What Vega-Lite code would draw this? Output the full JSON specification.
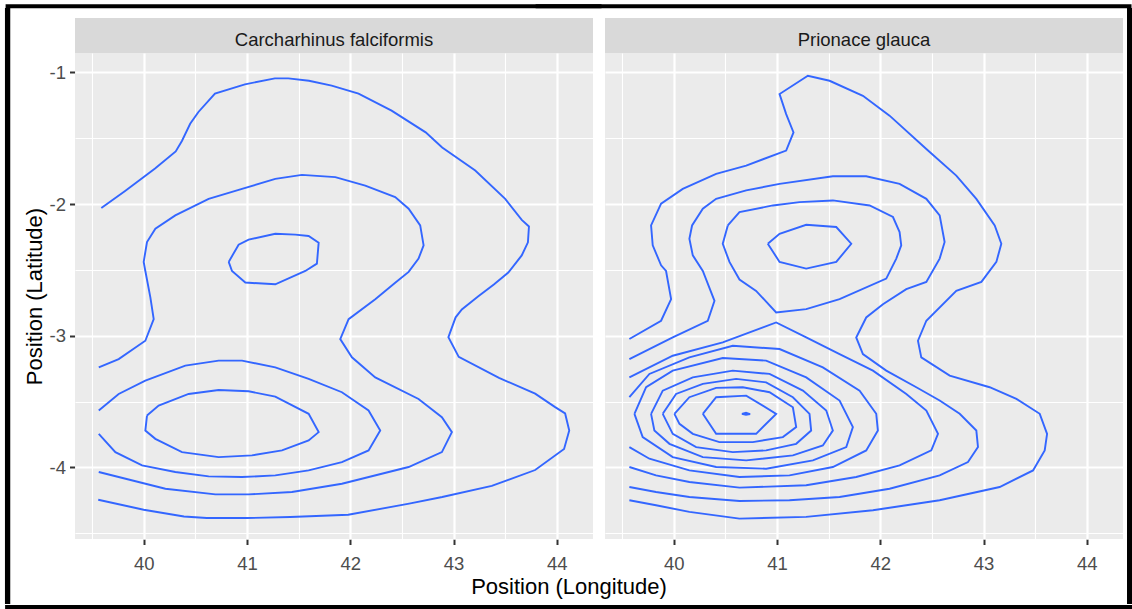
{
"$schema": "https://vega.github.io/schema/vega-lite/v6.json",
"background": "white",
"padding": {"left": 4, "top": 3, "right": 1, "bottom": 0},
"data": {"values": [
{"s":"Carcharhinus falciformis","c":"1","x":39.59,"y":-2.03},{"s":"Carcharhinus falciformis","c":"1","x":39.82,"y":-1.90},{"s":"Carcharhinus falciformis","c":"1","x":40.11,"y":-1.73},{"s":"Carcharhinus falciformis","c":"1","x":40.31,"y":-1.60},{"s":"Carcharhinus falciformis","c":"1","x":40.37,"y":-1.52},{"s":"Carcharhinus falciformis","c":"1","x":40.45,"y":-1.39},{"s":"Carcharhinus falciformis","c":"1","x":40.53,"y":-1.30},{"s":"Carcharhinus falciformis","c":"1","x":40.69,"y":-1.16},{"s":"Carcharhinus falciformis","c":"1","x":40.98,"y":-1.09},{"s":"Carcharhinus falciformis","c":"1","x":41.27,"y":-1.045},{"s":"Carcharhinus falciformis","c":"1","x":41.40,"y":-1.045},{"s":"Carcharhinus falciformis","c":"1","x":41.60,"y":-1.063},{"s":"Carcharhinus falciformis","c":"1","x":41.82,"y":-1.10},{"s":"Carcharhinus falciformis","c":"1","x":42.08,"y":-1.16},{"s":"Carcharhinus falciformis","c":"1","x":42.40,"y":-1.29},{"s":"Carcharhinus falciformis","c":"1","x":42.73,"y":-1.455},{"s":"Carcharhinus falciformis","c":"1","x":42.89,"y":-1.57},{"s":"Carcharhinus falciformis","c":"1","x":43.21,"y":-1.745},{"s":"Carcharhinus falciformis","c":"1","x":43.50,"y":-1.96},{"s":"Carcharhinus falciformis","c":"1","x":43.66,"y":-2.12},{"s":"Carcharhinus falciformis","c":"1","x":43.73,"y":-2.17},{"s":"Carcharhinus falciformis","c":"1","x":43.72,"y":-2.29},{"s":"Carcharhinus falciformis","c":"1","x":43.66,"y":-2.39},{"s":"Carcharhinus falciformis","c":"1","x":43.53,"y":-2.52},{"s":"Carcharhinus falciformis","c":"1","x":43.39,"y":-2.61},{"s":"Carcharhinus falciformis","c":"1","x":43.24,"y":-2.70},{"s":"Carcharhinus falciformis","c":"1","x":43.08,"y":-2.80},{"s":"Carcharhinus falciformis","c":"1","x":43.02,"y":-2.86},{"s":"Carcharhinus falciformis","c":"1","x":42.95,"y":-3.01},{"s":"Carcharhinus falciformis","c":"1","x":43.05,"y":-3.16},{"s":"Carcharhinus falciformis","c":"1","x":43.44,"y":-3.32},{"s":"Carcharhinus falciformis","c":"1","x":43.79,"y":-3.44},{"s":"Carcharhinus falciformis","c":"1","x":43.98,"y":-3.54},{"s":"Carcharhinus falciformis","c":"1","x":44.08,"y":-3.59},{"s":"Carcharhinus falciformis","c":"1","x":44.12,"y":-3.72},{"s":"Carcharhinus falciformis","c":"1","x":44.07,"y":-3.86},{"s":"Carcharhinus falciformis","c":"1","x":43.79,"y":-4.02},{"s":"Carcharhinus falciformis","c":"1","x":43.37,"y":-4.14},{"s":"Carcharhinus falciformis","c":"1","x":42.89,"y":-4.225},{"s":"Carcharhinus falciformis","c":"1","x":42.57,"y":-4.275},{"s":"Carcharhinus falciformis","c":"1","x":41.98,"y":-4.36},{"s":"Carcharhinus falciformis","c":"1","x":41.42,"y":-4.377},{"s":"Carcharhinus falciformis","c":"1","x":41.0,"y":-4.385},{"s":"Carcharhinus falciformis","c":"1","x":40.61,"y":-4.385},{"s":"Carcharhinus falciformis","c":"1","x":40.39,"y":-4.373},{"s":"Carcharhinus falciformis","c":"1","x":40.0,"y":-4.322},{"s":"Carcharhinus falciformis","c":"1","x":39.56,"y":-4.246},
{"s":"Carcharhinus falciformis","c":"2","x":39.565,"y":-3.24},{"s":"Carcharhinus falciformis","c":"2","x":39.758,"y":-3.177},{"s":"Carcharhinus falciformis","c":"2","x":40.016,"y":-3.038},{"s":"Carcharhinus falciformis","c":"2","x":40.097,"y":-2.874},{"s":"Carcharhinus falciformis","c":"2","x":40.065,"y":-2.71},{"s":"Carcharhinus falciformis","c":"2","x":40.016,"y":-2.508},{"s":"Carcharhinus falciformis","c":"2","x":40.0,"y":-2.439},{"s":"Carcharhinus falciformis","c":"2","x":40.032,"y":-2.288},{"s":"Carcharhinus falciformis","c":"2","x":40.113,"y":-2.187},{"s":"Carcharhinus falciformis","c":"2","x":40.306,"y":-2.086},{"s":"Carcharhinus falciformis","c":"2","x":40.629,"y":-1.96},{"s":"Carcharhinus falciformis","c":"2","x":40.952,"y":-1.884},{"s":"Carcharhinus falciformis","c":"2","x":41.274,"y":-1.808},{"s":"Carcharhinus falciformis","c":"2","x":41.532,"y":-1.778},{"s":"Carcharhinus falciformis","c":"2","x":41.855,"y":-1.795},{"s":"Carcharhinus falciformis","c":"2","x":42.145,"y":-1.859},{"s":"Carcharhinus falciformis","c":"2","x":42.435,"y":-1.947},{"s":"Carcharhinus falciformis","c":"2","x":42.565,"y":-2.035},{"s":"Carcharhinus falciformis","c":"2","x":42.677,"y":-2.162},{"s":"Carcharhinus falciformis","c":"2","x":42.71,"y":-2.313},{"s":"Carcharhinus falciformis","c":"2","x":42.661,"y":-2.414},{"s":"Carcharhinus falciformis","c":"2","x":42.565,"y":-2.515},{"s":"Carcharhinus falciformis","c":"2","x":42.435,"y":-2.598},{"s":"Carcharhinus falciformis","c":"2","x":42.242,"y":-2.722},{"s":"Carcharhinus falciformis","c":"2","x":41.984,"y":-2.874},{"s":"Carcharhinus falciformis","c":"2","x":41.903,"y":-3.025},{"s":"Carcharhinus falciformis","c":"2","x":42.016,"y":-3.164},{"s":"Carcharhinus falciformis","c":"2","x":42.242,"y":-3.316},{"s":"Carcharhinus falciformis","c":"2","x":42.661,"y":-3.48},{"s":"Carcharhinus falciformis","c":"2","x":42.887,"y":-3.619},{"s":"Carcharhinus falciformis","c":"2","x":42.984,"y":-3.732},{"s":"Carcharhinus falciformis","c":"2","x":42.887,"y":-3.884},{"s":"Carcharhinus falciformis","c":"2","x":42.565,"y":-3.997},{"s":"Carcharhinus falciformis","c":"2","x":41.919,"y":-4.124},{"s":"Carcharhinus falciformis","c":"2","x":41.435,"y":-4.187},{"s":"Carcharhinus falciformis","c":"2","x":41.016,"y":-4.205},{"s":"Carcharhinus falciformis","c":"2","x":40.694,"y":-4.205},{"s":"Carcharhinus falciformis","c":"2","x":40.21,"y":-4.162},{"s":"Carcharhinus falciformis","c":"2","x":39.565,"y":-4.035},
{"s":"Carcharhinus falciformis","c":"3","x":40.823,"y":-2.439},{"s":"Carcharhinus falciformis","c":"3","x":40.919,"y":-2.308},{"s":"Carcharhinus falciformis","c":"3","x":41.016,"y":-2.27},{"s":"Carcharhinus falciformis","c":"3","x":41.274,"y":-2.225},{"s":"Carcharhinus falciformis","c":"3","x":41.468,"y":-2.232},{"s":"Carcharhinus falciformis","c":"3","x":41.597,"y":-2.242},{"s":"Carcharhinus falciformis","c":"3","x":41.694,"y":-2.293},{"s":"Carcharhinus falciformis","c":"3","x":41.677,"y":-2.452},{"s":"Carcharhinus falciformis","c":"3","x":41.565,"y":-2.508},{"s":"Carcharhinus falciformis","c":"3","x":41.274,"y":-2.609},{"s":"Carcharhinus falciformis","c":"3","x":40.984,"y":-2.596},{"s":"Carcharhinus falciformis","c":"3","x":40.855,"y":-2.508},{"s":"Carcharhinus falciformis","c":"3","x":40.823,"y":-2.439},
{"s":"Carcharhinus falciformis","c":"4","x":39.565,"y":-3.568},{"s":"Carcharhinus falciformis","c":"4","x":39.758,"y":-3.442},{"s":"Carcharhinus falciformis","c":"4","x":40.016,"y":-3.341},{"s":"Carcharhinus falciformis","c":"4","x":40.403,"y":-3.227},{"s":"Carcharhinus falciformis","c":"4","x":40.726,"y":-3.189},{"s":"Carcharhinus falciformis","c":"4","x":40.952,"y":-3.189},{"s":"Carcharhinus falciformis","c":"4","x":41.274,"y":-3.24},{"s":"Carcharhinus falciformis","c":"4","x":41.597,"y":-3.328},{"s":"Carcharhinus falciformis","c":"4","x":41.919,"y":-3.429},{"s":"Carcharhinus falciformis","c":"4","x":42.177,"y":-3.568},{"s":"Carcharhinus falciformis","c":"4","x":42.29,"y":-3.72},{"s":"Carcharhinus falciformis","c":"4","x":42.177,"y":-3.871},{"s":"Carcharhinus falciformis","c":"4","x":41.919,"y":-3.96},{"s":"Carcharhinus falciformis","c":"4","x":41.597,"y":-4.023},{"s":"Carcharhinus falciformis","c":"4","x":41.274,"y":-4.061},{"s":"Carcharhinus falciformis","c":"4","x":40.952,"y":-4.073},{"s":"Carcharhinus falciformis","c":"4","x":40.629,"y":-4.068},{"s":"Carcharhinus falciformis","c":"4","x":40.306,"y":-4.035},{"s":"Carcharhinus falciformis","c":"4","x":39.984,"y":-3.985},{"s":"Carcharhinus falciformis","c":"4","x":39.726,"y":-3.884},{"s":"Carcharhinus falciformis","c":"4","x":39.565,"y":-3.745},
{"s":"Carcharhinus falciformis","c":"5","x":40.032,"y":-3.606},{"s":"Carcharhinus falciformis","c":"5","x":40.145,"y":-3.53},{"s":"Carcharhinus falciformis","c":"5","x":40.435,"y":-3.442},{"s":"Carcharhinus falciformis","c":"5","x":40.726,"y":-3.412},{"s":"Carcharhinus falciformis","c":"5","x":41.016,"y":-3.422},{"s":"Carcharhinus falciformis","c":"5","x":41.274,"y":-3.462},{"s":"Carcharhinus falciformis","c":"5","x":41.597,"y":-3.593},{"s":"Carcharhinus falciformis","c":"5","x":41.694,"y":-3.732},{"s":"Carcharhinus falciformis","c":"5","x":41.597,"y":-3.795},{"s":"Carcharhinus falciformis","c":"5","x":41.339,"y":-3.871},{"s":"Carcharhinus falciformis","c":"5","x":41.048,"y":-3.909},{"s":"Carcharhinus falciformis","c":"5","x":40.726,"y":-3.922},{"s":"Carcharhinus falciformis","c":"5","x":40.371,"y":-3.884},{"s":"Carcharhinus falciformis","c":"5","x":40.113,"y":-3.783},{"s":"Carcharhinus falciformis","c":"5","x":40.016,"y":-3.72},{"s":"Carcharhinus falciformis","c":"5","x":40.032,"y":-3.606},
{"s":"Prionace glauca","c":"1","x":39.571,"y":-3.025},{"s":"Prionace glauca","c":"1","x":39.878,"y":-2.886},{"s":"Prionace glauca","c":"1","x":39.975,"y":-2.722},{"s":"Prionace glauca","c":"1","x":39.926,"y":-2.508},{"s":"Prionace glauca","c":"1","x":39.878,"y":-2.465},{"s":"Prionace glauca","c":"1","x":39.797,"y":-2.313},{"s":"Prionace glauca","c":"1","x":39.781,"y":-2.162},{"s":"Prionace glauca","c":"1","x":39.878,"y":-1.997},{"s":"Prionace glauca","c":"1","x":40.088,"y":-1.884},{"s":"Prionace glauca","c":"1","x":40.411,"y":-1.77},{"s":"Prionace glauca","c":"1","x":40.702,"y":-1.707},{"s":"Prionace glauca","c":"1","x":41.089,"y":-1.593},{"s":"Prionace glauca","c":"1","x":41.16,"y":-1.455},{"s":"Prionace glauca","c":"1","x":41.089,"y":-1.316},{"s":"Prionace glauca","c":"1","x":41.025,"y":-1.164},{"s":"Prionace glauca","c":"1","x":41.299,"y":-1.025},{"s":"Prionace glauca","c":"1","x":41.509,"y":-1.063},{"s":"Prionace glauca","c":"1","x":41.832,"y":-1.177},{"s":"Prionace glauca","c":"1","x":42.09,"y":-1.328},{"s":"Prionace glauca","c":"1","x":42.446,"y":-1.581},{"s":"Prionace glauca","c":"1","x":42.736,"y":-1.783},{"s":"Prionace glauca","c":"1","x":42.93,"y":-1.96},{"s":"Prionace glauca","c":"1","x":43.108,"y":-2.162},{"s":"Prionace glauca","c":"1","x":43.172,"y":-2.301},{"s":"Prionace glauca","c":"1","x":43.124,"y":-2.439},{"s":"Prionace glauca","c":"1","x":42.979,"y":-2.591},{"s":"Prionace glauca","c":"1","x":42.736,"y":-2.659},{"s":"Prionace glauca","c":"1","x":42.446,"y":-2.886},{"s":"Prionace glauca","c":"1","x":42.365,"y":-3.038},{"s":"Prionace glauca","c":"1","x":42.397,"y":-3.164},{"s":"Prionace glauca","c":"1","x":42.672,"y":-3.303},{"s":"Prionace glauca","c":"1","x":43.059,"y":-3.391},{"s":"Prionace glauca","c":"1","x":43.318,"y":-3.48},{"s":"Prionace glauca","c":"1","x":43.544,"y":-3.593},{"s":"Prionace glauca","c":"1","x":43.615,"y":-3.745},{"s":"Prionace glauca","c":"1","x":43.592,"y":-3.871},{"s":"Prionace glauca","c":"1","x":43.479,"y":-4.023},{"s":"Prionace glauca","c":"1","x":43.156,"y":-4.149},{"s":"Prionace glauca","c":"1","x":42.575,"y":-4.25},{"s":"Prionace glauca","c":"1","x":41.929,"y":-4.326},{"s":"Prionace glauca","c":"1","x":41.283,"y":-4.376},{"s":"Prionace glauca","c":"1","x":40.637,"y":-4.389},{"s":"Prionace glauca","c":"1","x":40.152,"y":-4.338},{"s":"Prionace glauca","c":"1","x":39.829,"y":-4.288},{"s":"Prionace glauca","c":"1","x":39.571,"y":-4.25},
{"s":"Prionace glauca","c":"2","x":39.571,"y":-3.177},{"s":"Prionace glauca","c":"2","x":39.991,"y":-3.013},{"s":"Prionace glauca","c":"2","x":40.33,"y":-2.886},{"s":"Prionace glauca","c":"2","x":40.395,"y":-2.735},{"s":"Prionace glauca","c":"2","x":40.282,"y":-2.508},{"s":"Prionace glauca","c":"2","x":40.185,"y":-2.389},{"s":"Prionace glauca","c":"2","x":40.152,"y":-2.263},{"s":"Prionace glauca","c":"2","x":40.178,"y":-2.162},{"s":"Prionace glauca","c":"2","x":40.282,"y":-2.035},{"s":"Prionace glauca","c":"2","x":40.411,"y":-1.96},{"s":"Prionace glauca","c":"2","x":40.702,"y":-1.896},{"s":"Prionace glauca","c":"2","x":41.025,"y":-1.846},{"s":"Prionace glauca","c":"2","x":41.541,"y":-1.788},{"s":"Prionace glauca","c":"2","x":41.864,"y":-1.788},{"s":"Prionace glauca","c":"2","x":42.187,"y":-1.846},{"s":"Prionace glauca","c":"2","x":42.446,"y":-1.96},{"s":"Prionace glauca","c":"2","x":42.575,"y":-2.086},{"s":"Prionace glauca","c":"2","x":42.623,"y":-2.288},{"s":"Prionace glauca","c":"2","x":42.575,"y":-2.414},{"s":"Prionace glauca","c":"2","x":42.446,"y":-2.591},{"s":"Prionace glauca","c":"2","x":42.252,"y":-2.646},{"s":"Prionace glauca","c":"2","x":42.026,"y":-2.76},{"s":"Prionace glauca","c":"2","x":41.864,"y":-2.861},{"s":"Prionace glauca","c":"2","x":41.767,"y":-3.013},{"s":"Prionace glauca","c":"2","x":41.832,"y":-3.139},{"s":"Prionace glauca","c":"2","x":42.058,"y":-3.265},{"s":"Prionace glauca","c":"2","x":42.349,"y":-3.391},{"s":"Prionace glauca","c":"2","x":42.575,"y":-3.492},{"s":"Prionace glauca","c":"2","x":42.769,"y":-3.593},{"s":"Prionace glauca","c":"2","x":42.93,"y":-3.72},{"s":"Prionace glauca","c":"2","x":42.946,"y":-3.846},{"s":"Prionace glauca","c":"2","x":42.849,"y":-3.96},{"s":"Prionace glauca","c":"2","x":42.575,"y":-4.061},{"s":"Prionace glauca","c":"2","x":42.09,"y":-4.162},{"s":"Prionace glauca","c":"2","x":41.606,"y":-4.225},{"s":"Prionace glauca","c":"2","x":41.121,"y":-4.25},{"s":"Prionace glauca","c":"2","x":40.637,"y":-4.255},{"s":"Prionace glauca","c":"2","x":40.152,"y":-4.225},{"s":"Prionace glauca","c":"2","x":39.829,"y":-4.187},{"s":"Prionace glauca","c":"2","x":39.571,"y":-4.149},
{"s":"Prionace glauca","c":"3","x":40.524,"y":-2.162},{"s":"Prionace glauca","c":"3","x":40.637,"y":-2.061},{"s":"Prionace glauca","c":"3","x":40.96,"y":-2.01},{"s":"Prionace glauca","c":"3","x":41.218,"y":-1.985},{"s":"Prionace glauca","c":"3","x":41.541,"y":-1.972},{"s":"Prionace glauca","c":"3","x":41.897,"y":-2.01},{"s":"Prionace glauca","c":"3","x":42.123,"y":-2.098},{"s":"Prionace glauca","c":"3","x":42.187,"y":-2.212},{"s":"Prionace glauca","c":"3","x":42.203,"y":-2.313},{"s":"Prionace glauca","c":"3","x":42.155,"y":-2.414},{"s":"Prionace glauca","c":"3","x":42.058,"y":-2.566},{"s":"Prionace glauca","c":"3","x":41.606,"y":-2.722},{"s":"Prionace glauca","c":"3","x":41.283,"y":-2.798},{"s":"Prionace glauca","c":"3","x":40.992,"y":-2.823},{"s":"Prionace glauca","c":"3","x":40.798,"y":-2.659},{"s":"Prionace glauca","c":"3","x":40.637,"y":-2.573},{"s":"Prionace glauca","c":"3","x":40.54,"y":-2.439},{"s":"Prionace glauca","c":"3","x":40.475,"y":-2.301},{"s":"Prionace glauca","c":"3","x":40.524,"y":-2.162},
{"s":"Prionace glauca","c":"4","x":40.911,"y":-2.301},{"s":"Prionace glauca","c":"4","x":41.025,"y":-2.225},{"s":"Prionace glauca","c":"4","x":41.283,"y":-2.157},{"s":"Prionace glauca","c":"4","x":41.574,"y":-2.174},{"s":"Prionace glauca","c":"4","x":41.719,"y":-2.301},{"s":"Prionace glauca","c":"4","x":41.574,"y":-2.439},{"s":"Prionace glauca","c":"4","x":41.283,"y":-2.49},{"s":"Prionace glauca","c":"4","x":41.025,"y":-2.439},{"s":"Prionace glauca","c":"4","x":40.911,"y":-2.301},
{"s":"Prionace glauca","c":"5","x":39.571,"y":-3.316},{"s":"Prionace glauca","c":"5","x":39.991,"y":-3.152},{"s":"Prionace glauca","c":"5","x":40.475,"y":-3.051},{"s":"Prionace glauca","c":"5","x":40.992,"y":-2.899},{"s":"Prionace glauca","c":"5","x":41.283,"y":-3.013},{"s":"Prionace glauca","c":"5","x":41.606,"y":-3.139},{"s":"Prionace glauca","c":"5","x":41.929,"y":-3.265},{"s":"Prionace glauca","c":"5","x":42.252,"y":-3.442},{"s":"Prionace glauca","c":"5","x":42.446,"y":-3.568},{"s":"Prionace glauca","c":"5","x":42.559,"y":-3.745},{"s":"Prionace glauca","c":"5","x":42.494,"y":-3.871},{"s":"Prionace glauca","c":"5","x":42.187,"y":-3.985},{"s":"Prionace glauca","c":"5","x":41.767,"y":-4.073},{"s":"Prionace glauca","c":"5","x":41.283,"y":-4.136},{"s":"Prionace glauca","c":"5","x":40.637,"y":-4.154},{"s":"Prionace glauca","c":"5","x":40.152,"y":-4.111},{"s":"Prionace glauca","c":"5","x":39.829,"y":-4.061},{"s":"Prionace glauca","c":"5","x":39.571,"y":-3.997},
{"s":"Prionace glauca","c":"6","x":39.571,"y":-3.467},{"s":"Prionace glauca","c":"6","x":39.765,"y":-3.29},{"s":"Prionace glauca","c":"6","x":40.152,"y":-3.164},{"s":"Prionace glauca","c":"6","x":40.572,"y":-3.076},{"s":"Prionace glauca","c":"6","x":41.025,"y":-3.101},{"s":"Prionace glauca","c":"6","x":41.444,"y":-3.24},{"s":"Prionace glauca","c":"6","x":41.8,"y":-3.417},{"s":"Prionace glauca","c":"6","x":41.961,"y":-3.593},{"s":"Prionace glauca","c":"6","x":41.977,"y":-3.72},{"s":"Prionace glauca","c":"6","x":41.864,"y":-3.871},{"s":"Prionace glauca","c":"6","x":41.541,"y":-3.997},{"s":"Prionace glauca","c":"6","x":41.121,"y":-4.061},{"s":"Prionace glauca","c":"6","x":40.637,"y":-4.073},{"s":"Prionace glauca","c":"6","x":40.152,"y":-4.023},{"s":"Prionace glauca","c":"6","x":39.765,"y":-3.934},{"s":"Prionace glauca","c":"6","x":39.571,"y":-3.846},
{"s":"Prionace glauca","c":"7","x":39.62,"y":-3.593},{"s":"Prionace glauca","c":"7","x":39.733,"y":-3.391},{"s":"Prionace glauca","c":"7","x":39.991,"y":-3.265},{"s":"Prionace glauca","c":"7","x":40.475,"y":-3.169},{"s":"Prionace glauca","c":"7","x":40.895,"y":-3.189},{"s":"Prionace glauca","c":"7","x":41.283,"y":-3.316},{"s":"Prionace glauca","c":"7","x":41.606,"y":-3.492},{"s":"Prionace glauca","c":"7","x":41.735,"y":-3.694},{"s":"Prionace glauca","c":"7","x":41.671,"y":-3.846},{"s":"Prionace glauca","c":"7","x":41.348,"y":-3.947},{"s":"Prionace glauca","c":"7","x":40.895,"y":-4.01},{"s":"Prionace glauca","c":"7","x":40.411,"y":-3.997},{"s":"Prionace glauca","c":"7","x":39.991,"y":-3.922},{"s":"Prionace glauca","c":"7","x":39.7,"y":-3.77},{"s":"Prionace glauca","c":"7","x":39.62,"y":-3.593},
{"s":"Prionace glauca","c":"8","x":39.781,"y":-3.593},{"s":"Prionace glauca","c":"8","x":39.894,"y":-3.417},{"s":"Prionace glauca","c":"8","x":40.185,"y":-3.316},{"s":"Prionace glauca","c":"8","x":40.572,"y":-3.265},{"s":"Prionace glauca","c":"8","x":40.928,"y":-3.29},{"s":"Prionace glauca","c":"8","x":41.251,"y":-3.417},{"s":"Prionace glauca","c":"8","x":41.477,"y":-3.568},{"s":"Prionace glauca","c":"8","x":41.541,"y":-3.72},{"s":"Prionace glauca","c":"8","x":41.444,"y":-3.833},{"s":"Prionace glauca","c":"8","x":41.154,"y":-3.909},{"s":"Prionace glauca","c":"8","x":40.702,"y":-3.947},{"s":"Prionace glauca","c":"8","x":40.282,"y":-3.922},{"s":"Prionace glauca","c":"8","x":39.959,"y":-3.821},{"s":"Prionace glauca","c":"8","x":39.813,"y":-3.72},{"s":"Prionace glauca","c":"8","x":39.781,"y":-3.593},
{"s":"Prionace glauca","c":"9","x":39.894,"y":-3.593},{"s":"Prionace glauca","c":"9","x":40.023,"y":-3.442},{"s":"Prionace glauca","c":"9","x":40.282,"y":-3.366},{"s":"Prionace glauca","c":"9","x":40.605,"y":-3.328},{"s":"Prionace glauca","c":"9","x":40.895,"y":-3.354},{"s":"Prionace glauca","c":"9","x":41.154,"y":-3.467},{"s":"Prionace glauca","c":"9","x":41.315,"y":-3.593},{"s":"Prionace glauca","c":"9","x":41.331,"y":-3.72},{"s":"Prionace glauca","c":"9","x":41.186,"y":-3.821},{"s":"Prionace glauca","c":"9","x":40.895,"y":-3.871},{"s":"Prionace glauca","c":"9","x":40.572,"y":-3.884},{"s":"Prionace glauca","c":"9","x":40.217,"y":-3.846},{"s":"Prionace glauca","c":"9","x":39.991,"y":-3.745},{"s":"Prionace glauca","c":"9","x":39.894,"y":-3.593},
{"s":"Prionace glauca","c":"10","x":40.007,"y":-3.593},{"s":"Prionace glauca","c":"10","x":40.152,"y":-3.467},{"s":"Prionace glauca","c":"10","x":40.411,"y":-3.396},{"s":"Prionace glauca","c":"10","x":40.669,"y":-3.391},{"s":"Prionace glauca","c":"10","x":40.928,"y":-3.429},{"s":"Prionace glauca","c":"10","x":41.154,"y":-3.543},{"s":"Prionace glauca","c":"10","x":41.186,"y":-3.694},{"s":"Prionace glauca","c":"10","x":41.057,"y":-3.77},{"s":"Prionace glauca","c":"10","x":40.766,"y":-3.808},{"s":"Prionace glauca","c":"10","x":40.443,"y":-3.808},{"s":"Prionace glauca","c":"10","x":40.185,"y":-3.745},{"s":"Prionace glauca","c":"10","x":40.056,"y":-3.669},{"s":"Prionace glauca","c":"10","x":40.007,"y":-3.593},
{"s":"Prionace glauca","c":"11","x":40.282,"y":-3.593},{"s":"Prionace glauca","c":"11","x":40.411,"y":-3.467},{"s":"Prionace glauca","c":"11","x":40.702,"y":-3.455},{"s":"Prionace glauca","c":"11","x":40.992,"y":-3.593},{"s":"Prionace glauca","c":"11","x":40.798,"y":-3.745},{"s":"Prionace glauca","c":"11","x":40.411,"y":-3.745},{"s":"Prionace glauca","c":"11","x":40.282,"y":-3.593},
{"s":"Prionace glauca","c":"12","x":40.66,"y":-3.593},{"s":"Prionace glauca","c":"12","x":40.7,"y":-3.585},{"s":"Prionace glauca","c":"12","x":40.74,"y":-3.595},{"s":"Prionace glauca","c":"12","x":40.7,"y":-3.6},{"s":"Prionace glauca","c":"12","x":40.66,"y":-3.593}
]},
"facet": {"column": {"field": "s", "type": "nominal", "sort": ["Carcharhinus falciformis", "Prionace glauca"], "title": "Position (Longitude)",
  "header": {"labels": false, "titleOrient": "bottom", "titleFont": "Liberation Sans", "titleFontSize": 22, "titleFontWeight": "normal", "titleColor": "#000000", "titlePadding": -6}}},
"spacing": 12,
"bounds": "flush",
"spec": {
  "width": 518, "height": 486,
  "layer": [
    {"mark": {"type": "line", "color": "#3366FF", "strokeWidth": 1.9},
     "encoding": {
       "x": {"field": "x", "type": "quantitative", "scale": {"domain": [39.335, 44.35], "nice": false, "zero": false},
             "axis": {"orient": "bottom", "values": [39.5, 40, 40.5, 41, 41.5, 42, 42.5, 43, 43.5, 44], "labelExpr": "datum.value % 1 === 0 ? '' + datum.value : ''", "labelFlush": false, "labelOverlap": false, "labelPadding": 10, "title": null, "grid": true, "gridColor": "#FFFFFF",
                      "gridWidth": {"condition": {"test": "datum.value % 1 !== 0", "value": 1.1}, "value": 2.2},
                      "tickOpacity": {"condition": {"test": "datum.value % 1 !== 0", "value": 0}, "value": 1}}},
       "y": {"field": "y", "type": "quantitative", "scale": {"domain": [-4.544, -0.852], "nice": false, "zero": false},
             "axis": {"orient": "left", "values": [-4.5, -4, -3.5, -3, -2.5, -2, -1.5, -1], "labelExpr": "datum.value % 1 === 0 ? '' + datum.value : ''", "labelFlush": false, "labelOverlap": false, "title": "Position (Latitude)", "grid": true, "gridColor": "#FFFFFF",
                      "gridWidth": {"condition": {"test": "datum.value % 1 !== 0", "value": 1.1}, "value": 2.2},
                      "tickOpacity": {"condition": {"test": "datum.value % 1 !== 0", "value": 0}, "value": 1}}},
       "detail": {"field": "c"},
       "order": {"value": null}}},
    {"transform": [{"aggregate": [], "groupby": ["s"]}],
     "mark": {"type": "rect", "fill": "#D9D9D9", "clip": false},
     "encoding": {
       "x": {"datum": 39.335, "type": "quantitative"},
       "x2": {"datum": 44.35},
       "y": {"datum": -0.852, "type": "quantitative"},
       "y2": {"datum": -0.586}}},
    {"transform": [{"aggregate": [], "groupby": ["s"]}],
     "mark": {"type": "text", "font": "Liberation Sans", "fontSize": 18.5, "color": "#1A1A1A", "baseline": "alphabetic", "align": "center", "clip": false},
     "encoding": {
       "x": {"datum": 41.8425, "type": "quantitative"},
       "y": {"datum": -0.8, "type": "quantitative"},
       "text": {"field": "s"}}},
    {"transform": [{"aggregate": [], "groupby": ["s"]}],
     "mark": {"type": "rule", "color": "#000000", "strokeWidth": 4, "strokeCap": "square", "clip": false},
     "encoding": {
       "x": {"datum": 38.6825, "type": "quantitative"},
       "x2": {"datum": 44.413},
       "y": {"datum": -0.4972, "type": "quantitative"}}},
    {"transform": [{"aggregate": [], "groupby": ["s"]}],
     "mark": {"type": "rule", "color": "#000000", "strokeWidth": 5, "strokeCap": "square", "clip": false},
     "encoding": {
       "x": {"datum": 38.6825, "type": "quantitative"},
       "x2": {"datum": 44.413},
       "y": {"datum": -5.0642, "type": "quantitative"}}},
    {"transform": [{"filter": "datum.s === 'Carcharhinus falciformis'"}, {"aggregate": [], "groupby": ["s"]}],
     "mark": {"type": "rule", "color": "#000000", "strokeWidth": 5.3, "clip": false},
     "encoding": {
       "x": {"datum": 38.6825, "type": "quantitative"},
       "y": {"datum": -0.5102, "type": "quantitative"},
       "y2": {"datum": -5.0377}}},
    {"transform": [{"filter": "datum.s === 'Prionace glauca'"}, {"aggregate": [], "groupby": ["s"]}],
     "mark": {"type": "rule", "color": "#000000", "strokeWidth": 5, "clip": false},
     "encoding": {
       "x": {"datum": 44.413, "type": "quantitative"},
       "y": {"datum": -0.5102, "type": "quantitative"},
       "y2": {"datum": -5.0377}}}
  ]
},
"config": {
  "view": {"fill": "#EBEBEB", "stroke": null},
  "font": "Liberation Sans",
  "axis": {"domain": false, "tickColor": "#333333", "tickSize": 5.5, "tickWidth": 2, "labelFont": "Liberation Sans", "labelFontSize": 18.5, "labelColor": "#4D4D4D", "labelPadding": 4, "titleFont": "Liberation Sans", "titleFontSize": 22, "titleFontWeight": "normal", "titleColor": "#000000", "titlePadding": 3}
}
}
